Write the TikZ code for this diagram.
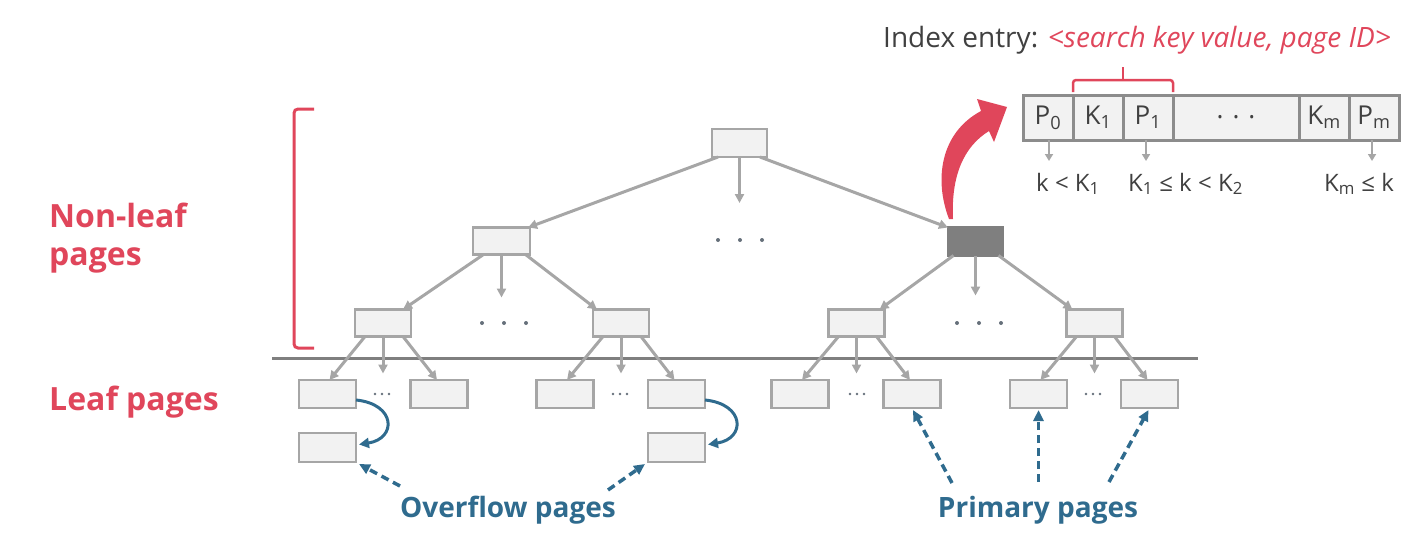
\documentclass[tikz,border=0pt]{standalone}
\usepackage{fontspec}
\setmainfont{Open Sans}
\newcommand\sbfont{\bfseries}
\usetikzlibrary{arrows.meta,calc}
\definecolor{boxfill}{HTML}{F2F2F2}
\definecolor{boxline}{HTML}{A6A6A6}
\definecolor{arrgray}{HTML}{A6A6A6}
\definecolor{darkbox}{HTML}{7F7F7F}
\definecolor{cellline}{HTML}{8C8C8C}
\definecolor{redc}{HTML}{E0465B}
\definecolor{bluec}{HTML}{2F6B8E}
\definecolor{txtgray}{HTML}{404040}
\definecolor{dotc}{HTML}{66707A}
\begin{document}
\begin{tikzpicture}[x=1pt,y=-1pt,
  page/.style={draw=boxline, fill=boxfill, line width=2.5pt, minimum width=56pt, minimum height=27pt, inner sep=0pt, outer sep=0pt},
  leafpage/.style={page, minimum width=57pt, minimum height=28pt},
  darkpage/.style={page, fill=darkbox, draw=darkbox},
  tree/.style={draw=arrgray, line width=3pt, -{Triangle[length=9pt,width=9pt]}},
  cell/.style={draw=cellline, fill=boxfill, line width=3pt, minimum width=50pt, minimum height=45pt, inner sep=0pt, outer sep=0pt, font=\fontsize{26}{30}\selectfont, text=txtgray},
  small/.style={draw=arrgray, line width=2.5pt, -{Triangle[length=7pt,width=8pt]}},
  redlbl/.style={text=redc, font=\sbfont\fontsize{32}{38}\selectfont, inner sep=0pt, anchor=base west},
  bluelbl/.style={text=bluec, font=\sbfont\fontsize{28}{32}\selectfont, inner sep=0pt, anchor=base},
  keylbl/.style={text=txtgray, font=\fontsize{24}{28}\selectfont, inner sep=0pt, anchor=base west},
  ovarrow/.style={draw=bluec, line width=3pt, -{Triangle[length=10pt,width=10pt]}},
  primarrow/.style={draw=bluec, line width=3.5pt, dash pattern=on 8pt off 5pt, -{Triangle[length=11pt,width=10pt]}},
  dot/.style={fill=dotc, draw=none}
]
\useasboundingbox (0,0) rectangle (1410,543);

% tree pages
\node[page, minimum width=55pt, minimum height=28pt] (root) at (739.5,143) {};
\node[page, minimum width=57pt] (l2a) at (501.5,241) {};
\node[darkpage, minimum width=55pt, minimum height=28pt] (l2b) at (975.5,241.5) {};
\node[page] (l3a) at (383,323) {};
\node[page] (l3b) at (621,323) {};
\node[page] (l3c) at (856.5,323) {};
\node[page] (l3d) at (1094.5,323) {};
\node[leafpage] (lfa) at (327.5,394) {};
\node[leafpage] (lfb) at (439,394) {};
\node[leafpage] (lfc) at (565,394) {};
\node[leafpage] (lfd) at (676.5,394) {};
\node[leafpage] (lfe) at (800,394) {};
\node[leafpage] (lff) at (912,394) {};
\node[leafpage] (lfg) at (1038.5,394) {};
\node[leafpage] (lfh) at (1149.5,394) {};
\node[leafpage, minimum height=29pt] (ova) at (327.5,447.5) {};
\node[leafpage, minimum height=29pt] (ovd) at (676.5,447.5) {};

% separator line
\coordinate (sepL) at (272,358);
\coordinate (sepR) at (1198,358);
\draw[draw=darkbox, line width=3pt] (sepL) -- (sepR);

% root arrows
\draw[tree] ($(root.south west)+(6,0)$) -- ($(l2a.north east)+(-2,0)$);
\draw[tree] ($(root.south east)+(-7,0)$) -- (l2b.north west);
\draw[tree] (root.south) -- ($(root.south)+(0,46)$);

% level 2 arrows
\draw[tree] ($(l2a.south)+(-18,0)$) -- ($(l3a.north)+(20,0)$);
\draw[tree] ($(l2a.south)+(24,0)$) -- ($(l3b.north)+(-24,0)$);
\draw[tree] (l2a.south) -- ($(l2a.south)+(0,43)$);
\draw[tree] ($(l2b.south)+(-22,0)$) -- ($(l3c.north)+(23,0)$);
\draw[tree] ($(l2b.south)+(23,0)$) -- ($(l3d.north)+(-22,0)$);
\draw[tree] (l2b.south) -- ($(l2b.south)+(0,40)$);

% level 3 arrows
\foreach \p/\l/\r in {l3a/lfa/lfb, l3b/lfc/lfd, l3c/lfe/lff, l3d/lfg/lfh}{
  \draw[tree] ($(\p.south)+(-18,0)$) -- ($(\l.north)+(2,0)$);
  \draw[tree] ($(\p.south)+(20,0)$) -- ($(\r.north)+(-2,0)$);
  \draw[tree] (\p.south) -- ($(\p.south)+(0,37)$);
}

% dots
\foreach \x in {718,740,762}{\fill[dot] (\x,240) circle (2);}
\foreach \x in {482,504,526,957,979,1001}{\fill[dot] (\x,323) circle (2);}
\foreach \c in {382,620,857,1093}{
  \foreach \d in {-7,0,7}{\fill[dot] (\c+\d,394) circle (1.4);}
}

% overflow chains
\draw[ovarrow] ($(lfa.east)+(0,6)$) .. controls +(40,4) and +(38,-6) .. ($(ova.east)+(3,-3)$);
\draw[ovarrow] ($(lfd.east)+(0,6)$) .. controls +(40,4) and +(38,-6) .. ($(ovd.east)+(3,-3)$);

% bottom labels
\node[bluelbl] (ovl) at (508,517) {Overflow pages};
\node[bluelbl] (prl) at (1038,517) {Primary pages};
\coordinate (oa1) at (400,486);
\coordinate (oa2) at (608,490);
\draw[primarrow] (oa1) -- ($(ova.south east)+(3,2)$);
\draw[primarrow] (oa2) -- ($(ovd.south west)+(-3,2)$);
\coordinate (pa1) at (952,483);
\coordinate (pa2) at (1038.5,482);
\coordinate (pa3) at (1109,482);
\draw[primarrow] (pa1) -- ($(lff.south)+(1,2)$);
\draw[primarrow] (pa2) -- ($(lfg.south)+(0,2)$);
\draw[primarrow] (pa3) -- ($(lfh.south)+(-1,2)$);

% left labels and bracket
\draw[draw=redc, line width=3pt, rounded corners=4pt] (314,109) -- (294,109) -- (294,348) -- (314,348);
\node[redlbl] (nl1) at (49,227) {Non-leaf};
\node[redlbl] (nl2) at (49,265) {pages};
\node[redlbl] (lp) at (49,410) {Leaf pages};

% index entry
\node[cell] (cP0) at (1048,117.5) {P\textsubscript{0}};
\node[cell] (cK1) at (1098,117.5) {K\textsubscript{1}};
\node[cell] (cP1) at (1148,117.5) {P\textsubscript{1}};
\node[cell, minimum width=126pt] (cdots) at (1236,117.5) {. . .};
\node[cell] (cKm) at (1324,117.5) {K\textsubscript{m}};
\node[cell] (cPm) at (1374,117.5) {P\textsubscript{m}};

\draw[small] ($(cP0.south)+(1,0)$) -- ($(cP0.south)+(1,21)$);
\draw[small] ($(cP1.south)+(-2,0)$) -- ($(cP1.south)+(-2,21)$);
\draw[small] ($(cPm.south)+(-2,0)$) -- ($(cPm.south)+(-2,21)$);
\node[keylbl] (k1) at (1036,191) {k < K\textsubscript{1}};
\node[keylbl] (k2) at (1128,191) {K\textsubscript{1} ≤ k < K\textsubscript{2}};
\node[keylbl] (k3) at (1324,191) {K\textsubscript{m} ≤ k};

\draw[draw=redc, line width=2.5pt, rounded corners=3pt] ($(cK1.north west)+(0,-3)$) -- ($(cK1.north west)+(0,-15)$) -- ($(cP1.north east)+(0,-15)$) -- ($(cP1.north east)+(0,-3)$);
\draw[draw=redc, line width=2.5pt] ($(cK1.north east)+(0,-15)$) -- ($(cK1.north east)+(0,-28)$);

\node[anchor=base west, inner sep=0pt, font=\fontsize{28}{32}\selectfont, text=txtgray] (ie) at (883,48) {Index entry: \textcolor{redc}{\itshape <search key value, page ID>}};

% red arrow to index entry
\fill[redc] (949,219) .. controls (934,180) and (940,133) .. (981,111) -- (977,99) -- (1007,107) -- (994,142) -- (989,131) .. controls (963,147) and (951,177) .. (953,219) -- cycle;
\end{tikzpicture}
\end{document}
